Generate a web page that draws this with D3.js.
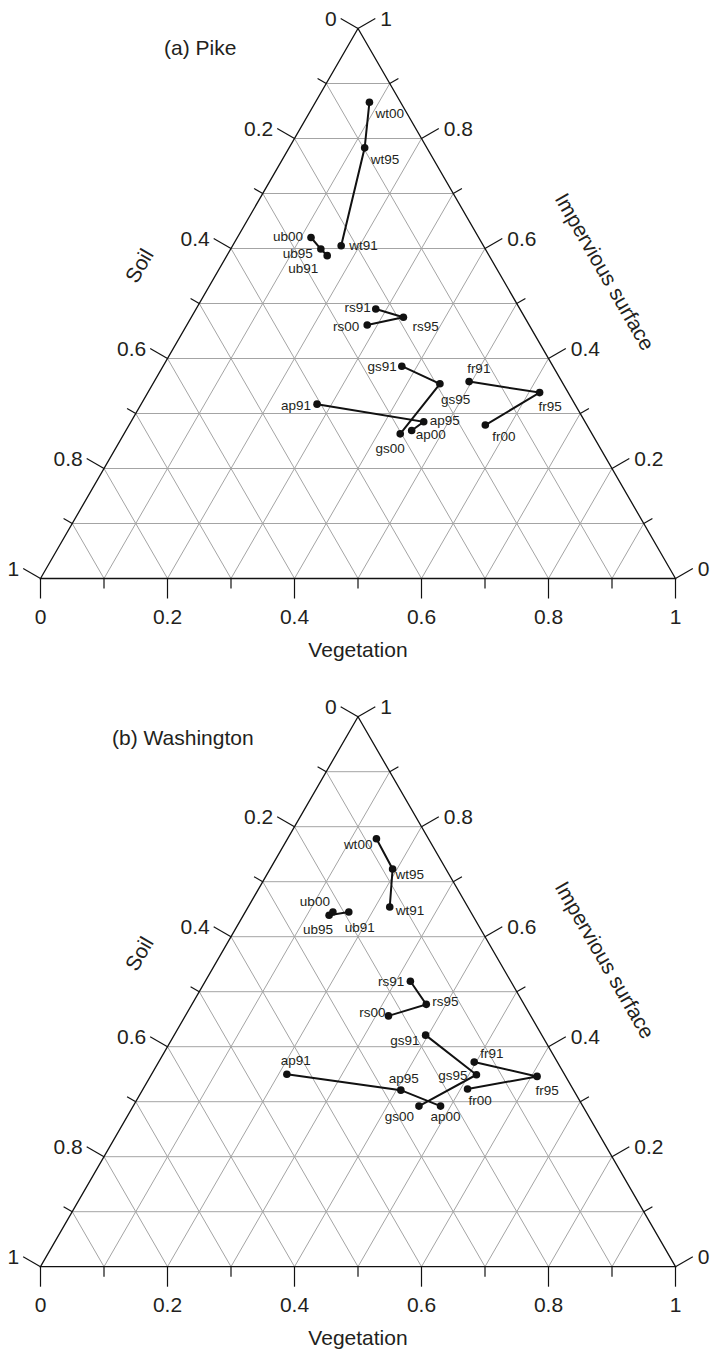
<!DOCTYPE html>
<html>
<head>
<meta charset="utf-8">
<script src="https://cdn.jsdelivr.net/npm/d3@7"></script>
<style>
  body { margin: 0; background: #fff; }
  svg { display: block; }
  text { font-family: "Liberation Sans", Arial, Helvetica, sans-serif; fill: #231f20; }
</style>
</head>
<body>
<svg id="chart" width="713" height="1350"></svg>
<script>
// ---------------- DATA ----------------
// Ternary axes: Soil (left), Vegetation (bottom), Impervious surface (right)
const tickValues = [0, 0.1, 0.2, 0.3, 0.4, 0.5, 0.6, 0.7, 0.8, 0.9, 1];
const majorTicks = [0, 0.2, 0.4, 0.6, 0.8, 1];
const tickLabels = ["0", "0.2", "0.4", "0.6", "0.8", "1"];
const axisNames = ["Soil", "Vegetation", "Impervious surface"];

// (a) Pike
const pikeNames = ["wt91", "wt95", "wt00", "ub91", "ub95", "ub00", "rs91", "rs95", "rs00",
                   "gs91", "gs95", "gs00", "ap91", "ap95", "ap00", "fr91", "fr95", "fr00"];
const pikeVeg   = [0.171, 0.119, 0.085, 0.158, 0.142, 0.116, 0.283, 0.334, 0.284,
                   0.376, 0.452, 0.435, 0.277, 0.461, 0.450, 0.496, 0.617, 0.561];
const pikeImp   = [0.605, 0.783, 0.866, 0.587, 0.599, 0.620, 0.490, 0.475, 0.461,
                   0.386, 0.354, 0.263, 0.317, 0.285, 0.269, 0.358, 0.338, 0.279];

// (b) Washington
const washNames = ["wt91", "wt95", "wt00", "ub91", "ub95", "ub00", "rs91", "rs95", "rs00",
                   "gs91", "gs95", "gs00", "ap91", "ap95", "ap00", "fr91", "fr95", "fr00"];
const washVeg   = [0.223, 0.193, 0.140, 0.163, 0.135, 0.138, 0.323, 0.369, 0.320,
                   0.396, 0.512, 0.450, 0.213, 0.407, 0.484, 0.497, 0.609, 0.511];
const washImp   = [0.654, 0.723, 0.778, 0.645, 0.639, 0.645, 0.519, 0.477, 0.456,
                   0.421, 0.349, 0.292, 0.350, 0.321, 0.292, 0.372, 0.346, 0.323];

// trajectories (91 -> 95 -> 00)
const trajectories = [["wt91","wt95","wt00"], ["ub91","ub95","ub00"], ["rs91","rs95","rs00"],
                      ["gs91","gs95","gs00"], ["ap91","ap95","ap00"], ["fr91","fr95","fr00"]];

// ---------------- LAYOUT / STYLE ----------------
const panels = [
  { title: "(a) Pike", names: pikeNames, veg: pikeVeg, imp: pikeImp,
    baseY: 578.5, titleX: 164, titleY: 47,
    labels: {
      wt00: [6, 11, "start"], wt95: [6, 12, "start"], wt91: [8, 0, "start"],
      ub00: [-8, -1, "end"], ub95: [-8, 4, "end"], ub91: [-9, 13, "end"],
      rs91: [-5, -2, "end"], rs95: [9, 9, "start"], rs00: [-8, 2, "end"],
      gs91: [-5, 0, "end"], gs95: [1, 16, "start"], gs00: [-10, 15, "middle"],
      ap91: [-6, 1, "end"], ap95: [6, -1, "start"], ap00: [4, 4, "start"],
      fr91: [-2, -13, "start"], fr95: [-1, 14, "start"], fr00: [7, 11, "start"]
    } },
  { title: "(b) Washington", names: washNames, veg: washVeg, imp: washImp,
    baseY: 1266.7, titleX: 112, titleY: 737,
    labels: {
      wt00: [-4, 6, "end"], wt95: [3, 5, "start"], wt91: [6, 3, "start"],
      ub00: [-3, -10, "end"], ub95: [-11, 14, "middle"], ub91: [11, 16, "middle"],
      rs91: [-6, 0, "end"], rs95: [6, -3, "start"], rs00: [-3, -3, "end"],
      gs91: [-6, 5, "end"], gs95: [-9, 1, "end"], gs00: [-5, 10, "end"],
      ap91: [9, -14, "middle"], ap95: [3, -12, "middle"], ap00: [5, 10, "middle"],
      fr91: [6, -9, "start"], fr95: [10, 14, "middle"], fr00: [1, 11, "start"]
    } }
];

const L = 40.5, W = 635, H = 550;
const bigFont = 21, smallFont = 13.5;
const majorLen = 20, minorLen = 10;
const c30 = Math.cos(Math.PI / 6), s30 = 0.5;

const svg = d3.select("#chart");

panels.forEach(p => {
  const g = svg.append("g");
  const x = d3.scaleLinear().domain([0, 1]).range([L, L + W]);
  const y = d3.scaleLinear().domain([0, 1]).range([p.baseY, p.baseY - H]);
  // position from (vegetation, impervious); soil = 1 - veg - imp
  const P = (veg, imp) => [x(veg + imp / 2), y(imp)];
  const isMajor = t => majorTicks.some(m => Math.abs(m - t) < 1e-9);
  const labelOf = t => tickLabels[majorTicks.findIndex(m => Math.abs(m - t) < 1e-9)];

  // grid
  const inner = tickValues.filter(t => t > 0 && t < 1);
  const gridSegs = [];
  inner.forEach(t => {
    gridSegs.push([P(0, t), P(1 - t, t)]);       // impervious = t
    gridSegs.push([P(0, 1 - t), P(1 - t, 0)]);   // soil = t
    gridSegs.push([P(t, 0), P(t, 1 - t)]);       // vegetation = t
  });
  g.append("g").selectAll("line").data(gridSegs).join("line")
    .attr("x1", d => d[0][0]).attr("y1", d => d[0][1])
    .attr("x2", d => d[1][0]).attr("y2", d => d[1][1])
    .attr("stroke", "#a4a4a4").attr("stroke-width", 1);

  // outline
  g.append("path")
    .attr("d", d3.line()([P(0, 0), P(1, 0), P(0, 1)]) + "Z")
    .attr("fill", "none").attr("stroke", "#111").attr("stroke-width", 1.3);

  // ticks
  const tickData = [];
  tickValues.forEach(t => {
    const len = isMajor(t) ? majorLen : minorLen;
    tickData.push({ p: P(t, 0), d: [0, 1], len, t, side: "b" });
    tickData.push({ p: P(0, 1 - t), d: [-c30, -s30], len, t, side: "l" });
    tickData.push({ p: P(1 - t, t), d: [c30, -s30], len, t, side: "r" });
  });
  g.append("g").selectAll("line").data(tickData).join("line")
    .attr("x1", d => d.p[0]).attr("y1", d => d.p[1])
    .attr("x2", d => d.p[0] + d.d[0] * d.len).attr("y2", d => d.p[1] + d.d[1] * d.len)
    .attr("stroke", "#111").attr("stroke-width", 1.2);

  g.append("g").selectAll("text").data(tickData.filter(d => isMajor(d.t))).join("text")
    .attr("x", d => {
      const ex = d.p[0] + d.d[0] * d.len;
      return d.side === "b" ? ex : d.side === "l" ? ex - 4 : ex + 5;
    })
    .attr("y", d => {
      const ey = d.p[1] + d.d[1] * d.len;
      return d.side === "b" ? ey + 18 : ey;
    })
    .attr("text-anchor", d => d.side === "b" ? "middle" : d.side === "l" ? "end" : "start")
    .attr("dominant-baseline", "central")
    .attr("font-size", bigFont)
    .text(d => labelOf(d.t));

  // axis titles
  g.append("text").attr("transform", `translate(139,${p.baseY - 313}) rotate(-60)`)
    .attr("text-anchor", "middle").attr("dominant-baseline", "central")
    .attr("font-size", bigFont).text(axisNames[0]);
  g.append("text").attr("x", x(0.5)).attr("y", p.baseY + 71)
    .attr("text-anchor", "middle").attr("dominant-baseline", "central")
    .attr("font-size", bigFont).text(axisNames[1]);
  g.append("text").attr("transform", `translate(605,${p.baseY - 307}) rotate(60)`)
    .attr("text-anchor", "middle").attr("dominant-baseline", "central")
    .attr("font-size", bigFont).text(axisNames[2]);

  // panel title
  g.append("text").attr("x", p.titleX).attr("y", p.titleY)
    .attr("dominant-baseline", "central").attr("font-size", bigFont).text(p.title);

  // data
  const pts = p.names.map((n, i) => ({ name: n, xy: P(p.veg[i], p.imp[i]) }));
  const byName = Object.fromEntries(pts.map(d => [d.name, d]));
  g.append("g").selectAll("path").data(trajectories).join("path")
    .attr("d", tr => d3.line()(tr.map(n => byName[n].xy)))
    .attr("fill", "none").attr("stroke", "#111").attr("stroke-width", 2);
  g.append("g").selectAll("circle").data(pts).join("circle")
    .attr("cx", d => d.xy[0]).attr("cy", d => d.xy[1]).attr("r", 3.8)
    .attr("fill", "#111");
  g.append("g").selectAll("text").data(pts).join("text")
    .attr("x", d => d.xy[0] + p.labels[d.name][0])
    .attr("y", d => d.xy[1] + p.labels[d.name][1])
    .attr("text-anchor", d => p.labels[d.name][2])
    .attr("dominant-baseline", "central")
    .attr("font-size", smallFont)
    .text(d => d.name);
});
</script>
</body>
</html>
